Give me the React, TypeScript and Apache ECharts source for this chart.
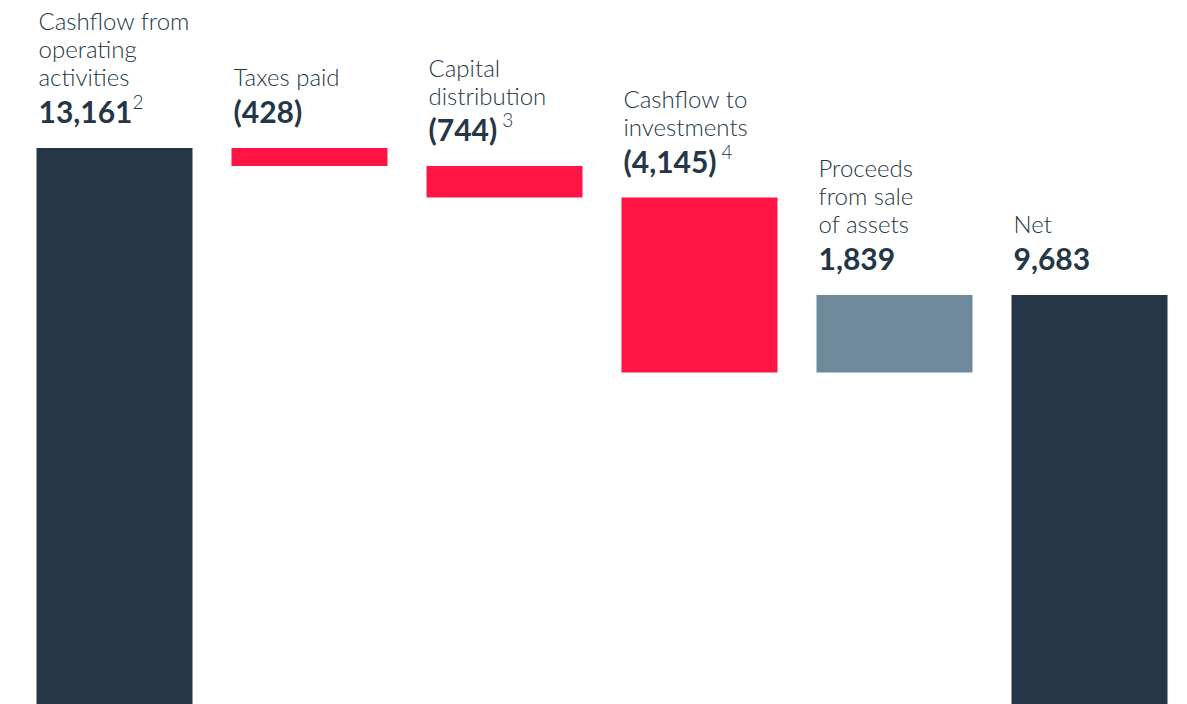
import React, { useEffect, useRef } from "react";
import * as echarts from "echarts";

const categories = ["operating", "taxes", "capital", "investments", "proceeds", "net"];
const nameLines = [
  ["Cashflow from", "operating", "activities"],
  ["Taxes paid"],
  ["Capital", "distribution"],
  ["Cashflow to", "investments"],
  ["Proceeds", "from sale", "of assets"],
  ["Net"],
];
const valueLabels = ["13,161", "(428)", "(744)", "(4,145)", "1,839", "9,683"];
const footnotes = ["2", "", "3", "4", "", ""];
const values = [13161, 428, 744, 4145, 1839, 9683];
const bases = [0, 12733, 11989, 7844, 7844, 0];
const barColors = ["#253746", "#FF1443", "#FF1443", "#FF1443", "#6E899B", "#253746"];

export default function App() {
  const ref = useRef<HTMLDivElement>(null);
  useEffect(() => {
    const chart = echarts.init(ref.current!, null, { renderer: "svg" });
    const font = "Lato, 'Noto Sans', sans-serif";
    chart.setOption({
      animation: false,
      grid: { left: 17, right: 0, top: 0, bottom: 0 },
      xAxis: {
        type: "category",
        data: categories,
        show: false,
      },
      yAxis: { type: "value", min: 0, max: 16664, show: false },
      series: [
        {
          type: "bar",
          stack: "w",
          data: bases,
          itemStyle: { color: "transparent" },
          barWidth: 156,
          silent: true,
        },
        {
          type: "bar",
          stack: "w",
          barWidth: 156,
          data: values.map((v, i) => ({
            value: v,
            itemStyle: { color: barColors[i] },
            label: {
              show: true,
              position: "top",
              distance: 17,
              align: "left",
              offset: [-76, 0],
              formatter: () =>
                nameLines[i].map((l) => `{n|${l}}`).join("\n") +
                `\n{v|${valueLabels[i]}}` +
                (footnotes[i] ? (i === 0 ? `{s|${footnotes[i]}}` : `{sp|${footnotes[i]}}`) : ""),
              rich: {
                n: { fontSize: 24, fontWeight: 300, lineHeight: 28, color: "#253746", fontFamily: font },
                v: { fontSize: 30, fontWeight: "bold", lineHeight: 40, color: "#253746", fontFamily: font },
                s: { fontSize: 19, fontWeight: 300, lineHeight: 40, verticalAlign: "top", color: "#253746", fontFamily: font, padding: [1, 0, 0, 0] },
                sp: { fontSize: 19, fontWeight: 300, lineHeight: 40, verticalAlign: "top", color: "#253746", fontFamily: font, padding: [1, 0, 0, 5] },
              },
            },
          })),
        },
      ],
    });
    return () => chart.dispose();
  }, []);
  return (
    <div
      ref={ref}
      style={{ position: "absolute", left: 0, top: 0, width: 1187, height: 704 }}
    />
  );
}
